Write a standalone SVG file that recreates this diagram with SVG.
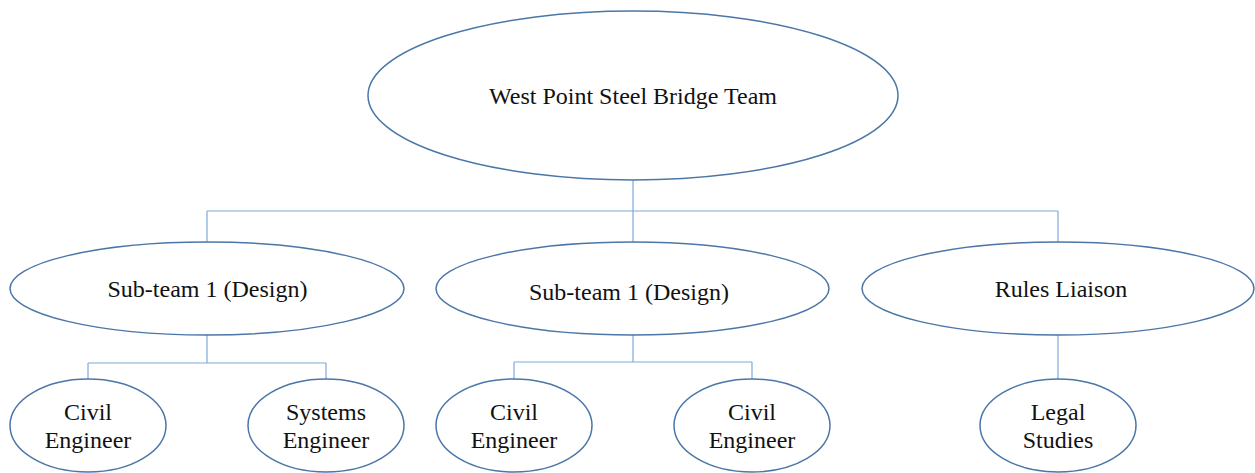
<svg xmlns="http://www.w3.org/2000/svg" width="1255" height="473" viewBox="0 0 1255 473">
<style>
.n{fill:#ffffff;stroke:#4a76a8;stroke-width:1.5}
.c{fill:none;stroke:#7fa9dc;stroke-width:1.2}
text{font-family:"Liberation Serif","Times New Roman",serif;font-size:24px;fill:#111;text-anchor:middle}
</style>
<rect width="1255" height="473" fill="#ffffff"/>
<g id="connectors">
<path class="c" d="M633 180V211M207 211H1058M207 211V242M633 211V242M1058 211V242"/>
<path class="c" d="M207 335V363M88 363H326M88 363V379M326 363V379"/>
<path class="c" d="M633 335V362M514 362H752M514 362V379M752 362V379"/>
<path class="c" d="M1058 335V379"/>
</g>
<g id="root"><ellipse class="n" cx="633" cy="95.5" rx="265" ry="84.5"/><text x="633" y="104">West Point Steel Bridge Team</text></g>
<g id="sub1"><ellipse class="n" cx="207" cy="288.5" rx="197" ry="46.5"/><text x="207.5" y="297">Sub-team 1 (Design)</text></g>
<g id="sub2"><ellipse class="n" cx="632.5" cy="288.5" rx="196.5" ry="46.5"/><text x="629" y="300">Sub-team 1 (Design)</text></g>
<g id="rules"><ellipse class="n" cx="1058" cy="288.5" rx="196" ry="46.5"/><text x="1061" y="297">Rules Liaison</text></g>
<g id="civil1"><ellipse class="n" cx="88" cy="425.5" rx="78" ry="46.5"/><text x="88" y="420">Civil</text><text x="88" y="448">Engineer</text></g>
<g id="systems"><ellipse class="n" cx="326" cy="425.5" rx="78" ry="46.5"/><text x="326" y="420">Systems</text><text x="326" y="448">Engineer</text></g>
<g id="civil2"><ellipse class="n" cx="514" cy="425.5" rx="78" ry="46.5"/><text x="514" y="420">Civil</text><text x="514" y="448">Engineer</text></g>
<g id="civil3"><ellipse class="n" cx="752" cy="425.5" rx="78" ry="46.5"/><text x="752" y="420">Civil</text><text x="752" y="448">Engineer</text></g>
<g id="legal"><ellipse class="n" cx="1058" cy="425.5" rx="78" ry="46.5"/><text x="1058" y="420">Legal</text><text x="1058" y="448">Studies</text></g>
</svg>
